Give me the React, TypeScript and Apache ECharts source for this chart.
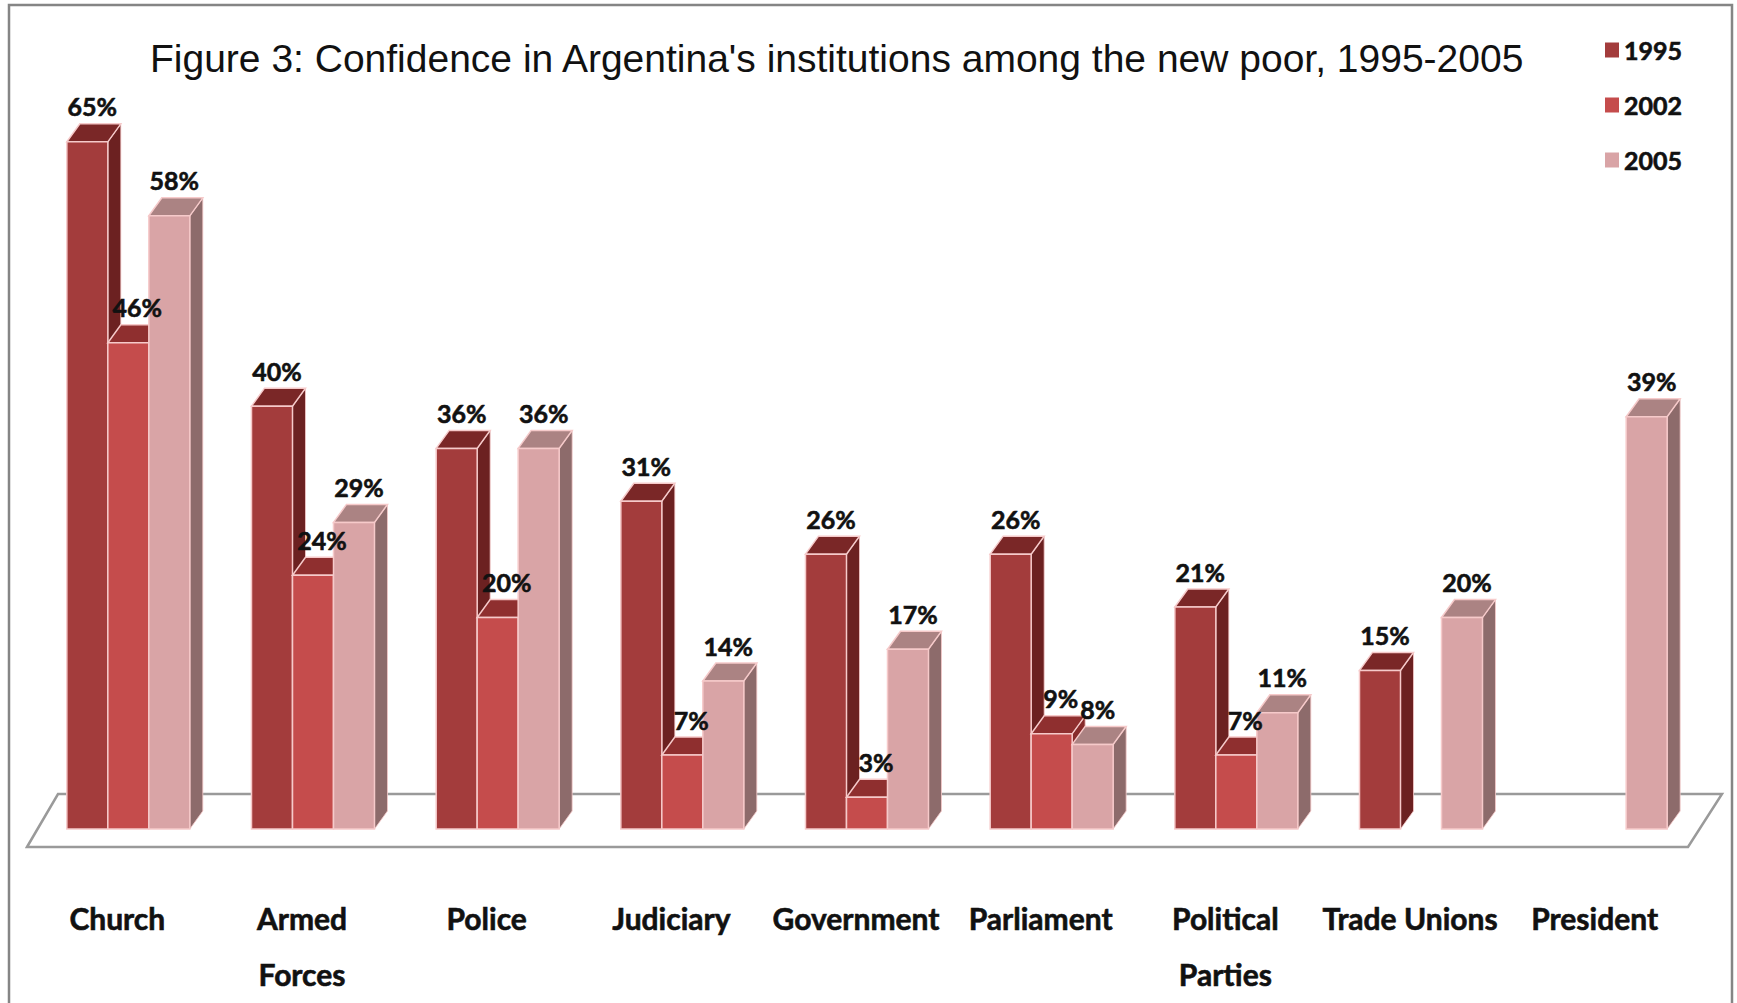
import React, { useEffect, useRef } from "react";
import * as echarts from "echarts";

const titleText =
  "Figure 3: Confidence in Argentina's institutions among the new poor, 1995-2005";
const categories = [
  "Church",
  "Armed\nForces",
  "Police",
  "Judiciary",
  "Government",
  "Parliament",
  "Political\nParties",
  "Trade Unions",
  "President",
];
const seriesNames = ["1995", "2002", "2005"];
const values1995: (number | null)[] = [65, 40, 36, 31, 26, 26, 21, 15, null];
const values2002: (number | null)[] = [46, 24, 20, 7, 3, 9, 7, null, null];
const values2005: (number | null)[] = [58, 29, 36, 14, 17, 8, 11, 20, 39];

const faceColors = [
  { front: "#a33c3c", top: "#7a2727", side: "#6c2121" },
  { front: "#c54c4c", top: "#8f2f2f", side: "#872b2b" },
  { front: "#d9a4a6", top: "#ab8383", side: "#8d6b6b" },
];

const NARROW = "Lato, 'DejaVu Sans Condensed', sans-serif";

const DX = 13;
const DY = 18;

function makeSeries(si: number, vals: (number | null)[]) {
  const data = vals
    .map((v, i) => (v === null ? null : [i, v]))
    .filter((d) => d !== null);
  const col = faceColors[si];
  return {
    type: "custom",
    name: seriesNames[si],
    clip: false,
    itemStyle: { color: col.front },
    data,
    z: 2,
    renderItem: (params: any, api: any) => {
      const idx = api.value(0);
      const val = api.value(1);
      const base = api.coord([idx, 0]);
      const top = api.coord([idx, val]);
      const band = api.size([1, 0])[0];
      const bw = band * 0.222;
      const x0 = base[0] + (si - 1.5) * bw;
      const yb = base[1];
      const yt = top[1];
      const edge = { stroke: "#f6caca", lineWidth: 1.5 };
      return {
        type: "group",
        children: [
          {
            type: "polygon",
            z2: si * 3,
            shape: {
              points: [
                [x0 + bw, yt],
                [x0 + bw + DX, yt - DY],
                [x0 + bw + DX, yb - DY],
                [x0 + bw, yb],
              ],
            },
            style: { fill: col.side, ...edge, lineWidth: 0.8 },
          },
          {
            type: "polygon",
            z2: si * 3 + 1,
            shape: {
              points: [
                [x0, yt],
                [x0 + bw, yt],
                [x0 + bw + DX, yt - DY],
                [x0 + DX, yt - DY],
              ],
            },
            style: { fill: col.top, ...edge },
          },
          {
            type: "rect",
            z2: si * 3 + 2,
            shape: { x: x0, y: yt, width: bw, height: yb - yt },
            style: { fill: col.front, ...edge },
          },
          {
            type: "text",
            z2: 100,
            x: x0 + bw / 2 + 5 + (si === 1 ? 4 : 0),
            y: yt - DY - 5,
            style: {
              text: val + "%",
              fill: "#111",
              stroke: "#111",
              lineWidth: 0.6,
              fontSize: 25,
              fontWeight: "bold",
              fontFamily: NARROW,
              align: "center",
              verticalAlign: "bottom",
            },
          },
        ],
      };
    },
  };
}

export default function App() {
  const ref = useRef<HTMLDivElement>(null);
  useEffect(() => {
    if (!ref.current) return;
    const chart = echarts.init(ref.current, null, { renderer: "svg" });
    chart.setOption({
      animation: false,
      backgroundColor: "#ffffff",
      title: {
        text: titleText,
        left: 145,
        top: 34,
        textStyle: {
          fontFamily: "'Liberation Sans', Arial, sans-serif",
          fontWeight: "normal",
          fontSize: 39,
          color: "#111",
        },
      },
      legend: {
        orient: "vertical",
        left: 1600,
        top: 31,
        itemWidth: 14,
        itemHeight: 15,
        itemGap: 27,
        icon: "rect",
        data: seriesNames,
        textStyle: {
          fontFamily: NARROW,
          fontWeight: "bold",
          fontSize: 25,
          lineHeight: 28,
          color: "#111",
          textBorderColor: "#111",
          textBorderWidth: 0.6,
        },
      },
      grid: { left: 36, right: 39, top: 89, bottom: 174 },
      xAxis: {
        type: "category",
        data: categories,
        axisLine: { show: false },
        axisTick: { show: false },
        axisLabel: {
          interval: 0,
          margin: 61,
          fontFamily: NARROW,
          fontWeight: "bold",
          fontSize: 30,
          lineHeight: 56,
          color: "#111",
          textBorderColor: "#111",
          textBorderWidth: 0.6,
          padding: [0, 22, 0, 0],
        },
      },
      yAxis: { type: "value", min: 0, max: 70, show: false, splitLine: { show: false } },
      graphic: [
        {
          type: "rect",
          z: -1,
          shape: { x: 9, y: 5, width: 1723, height: 1020 },
          style: { fill: "none", stroke: "#858585", lineWidth: 2.5 },
        },
        {
          type: "polygon",
          z: 0,
          shape: {
            points: [
              [27, 847],
              [58, 794],
              [1722, 794],
              [1688, 847],
            ],
          },
          style: { fill: "#ffffff", stroke: "#9a9a9a", lineWidth: 2.5 },
        },
      ],
      series: [
        makeSeries(0, values1995),
        makeSeries(1, values2002),
        makeSeries(2, values2005),
      ],
    });
    return () => chart.dispose();
  }, []);
  return (
    <div
      ref={ref}
      style={{ position: "absolute", left: 0, top: 0, width: 1737, height: 1003 }}
    />
  );
}
